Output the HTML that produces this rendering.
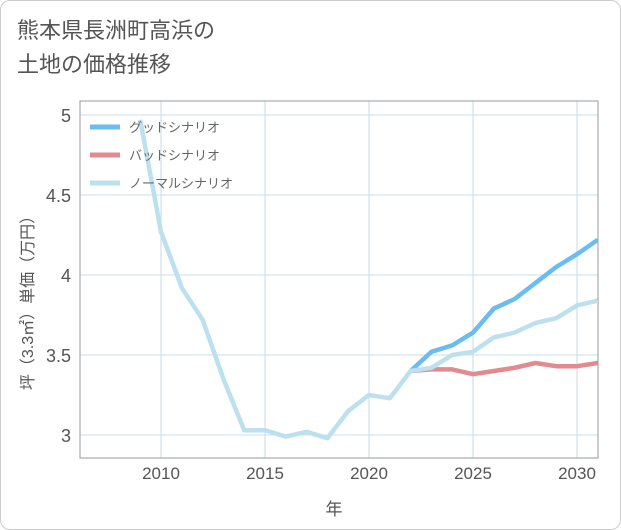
<!DOCTYPE html>
<html><head><meta charset="utf-8">
<style>
body{margin:0;background:#fff;}
#wrap{width:619px;height:528px;border:1px solid #ccc;border-radius:10px;position:relative;overflow:hidden;background:#fff;font-family:"Liberation Sans","Noto Sans CJK JP",sans-serif;}
#title{position:absolute;left:16px;top:13px;font-size:22px;line-height:34px;color:#555;}
svg{position:absolute;left:0;top:0;}
text{font-family:"Liberation Sans","Noto Sans CJK JP",sans-serif;}
</style></head><body>
<div id="wrap">
<div id="title">熊本県長洲町高浜の<br>土地の価格推移</div>
<svg id="chart" width="621" height="530"></svg>
</div>
<script>
const years=[2009,2010,2011,2012,2013,2014,2015,2016,2017,2018,2019,2020,2021,2022,2023,2024,2025,2026,2027,2028,2029,2030,2031];
const normalVals=[4.97,4.27,3.92,3.72,3.35,3.03,3.03,2.99,3.02,2.98,3.15,3.25,3.23,3.40,3.42,3.50,3.52,3.61,3.64,3.70,3.73,3.81,3.84];
const futureYears=[2022,2023,2024,2025,2026,2027,2028,2029,2030,2031];
const goodVals=[3.40,3.52,3.56,3.64,3.79,3.85,3.95,4.05,4.13,4.22];
const badVals=[3.40,3.41,3.41,3.38,3.40,3.42,3.45,3.43,3.43,3.45];
const xTicks=[2010,2015,2020,2025,2030];
const yTicks=[3,3.5,4,4.5,5];
const yTickLabels=["3","3.5","4","4.5","5"];
const legendLabels=["グッドシナリオ","バッドシナリオ","ノーマルシナリオ"];
const colors=["#6bbcf2","#e28a8e","#bde0ee"];

const L=79,R=597,T=100,B=457;
const x=v=>160+(v-2010)*20.8;
const y=v=>434-(v-3)*160;
const svg=document.getElementById('chart');
const NS='http://www.w3.org/2000/svg';
function mk(tag,attrs,parent){const e=document.createElementNS(NS,tag);for(const k in attrs)e.setAttribute(k,attrs[k]);(parent||svg).appendChild(e);return e;}

const grid=mk('g',{});


xTicks.forEach(t=>{const l=mk('line',{x1:x(t),x2:x(t),y1:T,y2:B,stroke:'#c6dbe6','stroke-width':1},grid);});
yTicks.forEach(t=>{const l=mk('line',{x1:L,x2:R,y1:y(t),y2:y(t),stroke:'#c6dfea','stroke-width':1},grid);});
const frame=mk('rect',{x:L,y:T,width:R-L,height:B-T,fill:'none',stroke:'#999','stroke-width':1});



xTicks.forEach(t=>{const e=mk('text',{x:x(t),y:478,'text-anchor':'middle','font-size':17,fill:'#555'});e.textContent=t;});
yTicks.forEach((t,i)=>{const e=mk('text',{x:70,y:y(t)+7,'text-anchor':'end','font-size':18,fill:'#555'});e.textContent=yTickLabels[i];});
const xt=mk('text',{x:333,y:514,'text-anchor':'middle','font-size':17,fill:'#555'});xt.textContent='年';


const yt=mk('text',{x:0,y:0,'text-anchor':'middle','font-size':16,fill:'#555',transform:'translate(32,298) rotate(-90)'});yt.textContent='坪（3.3㎡）単価（万円）';



const clip=mk('clipPath',{id:'pc'});mk('rect',{x:L,y:T,width:R-L,height:B-T},clip);
function line(xs,vs,c,name){const d=xs.map((v,i)=>(i?'L':'M')+x(v)+' '+y(vs[i])).join(' ');const p=mk('path',{d:d,fill:'none',stroke:c,'stroke-width':4.5,'stroke-linejoin':'round','clip-path':'url(#pc)'});}
line(futureYears,goodVals,colors[0],'good-scenario-line');
line(futureYears,badVals,colors[1],'bad-scenario-line');
line(years,normalVals,colors[2],'normal-scenario-line');

legendLabels.forEach((lab,i)=>{const ly=126+i*28;const g=mk('g',{});mk('line',{x1:89,x2:119,y1:ly,y2:ly,stroke:colors[i],'stroke-width':5},g);const t=mk('text',{x:128,y:ly+5,'font-size':13,fill:'#666'},g);t.textContent=lab;});
</script>
</body></html>
